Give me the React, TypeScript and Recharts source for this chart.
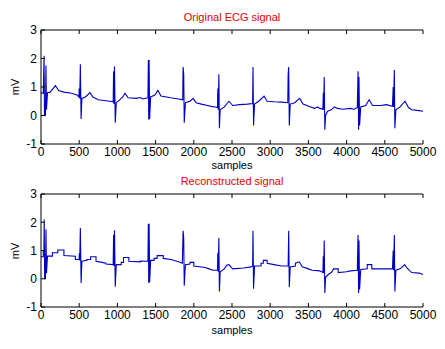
import React from "react";
import { LineChart, Line, XAxis, YAxis } from "recharts";

// [sample, mV] pairs
const originalSignal: [number, number][] = [
  [0, 0.8], [30, 0.78], [40, 2.1], [46, 0], [58, 0], [65, 1.75], [72, 0.2], [85, 0.8],
  [120, 0.82], [160, 0.95], [190, 1.05], [230, 0.88], [300, 0.82], [400, 0.78], [470, 0.72],
  [495, 0.65], [500, 0.95], [507, 0.6], [515, 1.8], [525, -0.12], [535, 0.6], [580, 0.65],
  [610, 0.72], [640, 0.8], [680, 0.65], [750, 0.55], [850, 0.52], [900, 0.5], [945, 0.48],
  [950, 1.55], [955, 0.4], [962, 1.72], [972, -0.25], [985, 0.45], [1030, 0.55], [1070, 0.65],
  [1100, 0.78], [1140, 0.62], [1250, 0.6], [1300, 0.63], [1330, 0.58], [1400, 0.62],
  [1405, 1.95], [1410, -0.15], [1415, 1.95], [1422, -0.12], [1435, 0.65], [1490, 0.72],
  [1530, 0.88], [1570, 0.68], [1700, 0.62], [1800, 0.58], [1855, 0.55], [1860, 1.7],
  [1868, 1.45], [1875, -0.25], [1890, 0.45], [1950, 0.5], [1990, 0.6], [2030, 0.45],
  [2100, 0.4], [2180, 0.35], [2230, 0.32], [2280, 0.3], [2310, 0.28], [2315, 0.95],
  [2320, 0.2], [2328, 1.45], [2335, -0.45], [2345, 0.2], [2400, 0.3], [2460, 0.5],
  [2510, 0.35], [2600, 0.38], [2700, 0.4], [2770, 0.42], [2775, 1.7], [2782, -0.35],
  [2795, 0.4], [2850, 0.5], [2920, 0.68], [2960, 0.5], [3050, 0.48], [3150, 0.47],
  [3230, 0.45], [3235, 1.45], [3242, 1.7], [3250, -0.35], [3262, 0.4], [3320, 0.45],
  [3385, 0.6], [3430, 0.4], [3530, 0.3], [3580, 0.25], [3620, 0.3], [3650, 0.25],
  [3690, 0.22], [3695, 0.8], [3700, 0.2], [3707, 1.35], [3715, -0.5], [3725, 0.0],
  [3750, 0.15], [3800, 0.2], [3840, 0.3], [3880, 0.25], [3950, 0.22], [4050, 0.25],
  [4100, 0.22], [4140, 0.28], [4150, 1.55], [4157, -0.5], [4162, 1.35], [4170, -0.35],
  [4185, 0.3], [4250, 0.35], [4295, 0.55], [4340, 0.35], [4450, 0.35], [4520, 0.38],
  [4600, 0.32], [4610, 1.0], [4615, 0.3], [4625, 1.6], [4632, -0.45], [4645, 0.2],
  [4700, 0.3], [4765, 0.5], [4810, 0.28], [4850, 0.2], [4950, 0.17], [5000, 0.15],
];

const reconstructedSignal: [number, number][] = [
  [0, 0.78], [30, 0.78], [30, 1.0], [38, 1.0], [42, 2.1], [48, 0], [58, 0], [65, 1.75],
  [72, 0.2], [85, 0.8], [150, 0.8], [150, 0.92], [220, 0.92], [220, 1.02], [300, 1.02],
  [300, 0.82], [450, 0.8], [450, 0.68], [498, 0.68], [502, 0.9], [507, 0.65], [515, 1.8],
  [525, -0.15], [535, 0.62], [600, 0.65], [600, 0.68], [650, 0.68], [650, 0.78], [720, 0.78],
  [720, 0.62], [800, 0.58], [850, 0.55], [850, 0.52], [945, 0.5], [950, 1.55], [955, 0.45],
  [962, 1.72], [972, -0.28], [985, 0.5], [1050, 0.5], [1050, 0.58], [1080, 0.58],
  [1080, 0.75], [1150, 0.75], [1150, 0.62], [1300, 0.6], [1300, 0.63], [1400, 0.62],
  [1405, 1.95], [1410, -0.15], [1415, 1.95], [1422, -0.12], [1435, 0.65], [1480, 0.65],
  [1480, 0.72], [1520, 0.72], [1520, 0.82], [1600, 0.82], [1600, 0.72], [1700, 0.68],
  [1800, 0.6], [1850, 0.55], [1860, 1.7], [1868, 1.45], [1875, -0.25], [1890, 0.5],
  [1950, 0.52], [1950, 0.58], [2000, 0.58], [2000, 0.45], [2150, 0.4], [2200, 0.35],
  [2250, 0.3], [2310, 0.3], [2315, 0.92], [2320, 0.25], [2328, 1.45], [2335, -0.45],
  [2345, 0.25], [2400, 0.35], [2430, 0.48], [2460, 0.5], [2490, 0.4], [2510, 0.35],
  [2650, 0.38], [2750, 0.42], [2770, 0.45], [2775, 1.7], [2782, -0.35], [2795, 0.45],
  [2880, 0.45], [2880, 0.55], [2910, 0.55], [2910, 0.65], [2960, 0.65], [2960, 0.55],
  [3050, 0.5], [3150, 0.45], [3235, 0.45], [3242, 1.7], [3250, -0.3], [3262, 0.42],
  [3330, 0.45], [3330, 0.55], [3380, 0.6], [3420, 0.42], [3500, 0.35], [3550, 0.3],
  [3650, 0.28], [3690, 0.22], [3695, 0.8], [3700, 0.2], [3707, 1.35], [3715, -0.5],
  [3725, 0.05], [3760, 0.15], [3800, 0.22], [3830, 0.35], [3890, 0.35], [3890, 0.22],
  [4000, 0.25], [4050, 0.28], [4140, 0.3], [4150, 1.55], [4157, -0.5], [4162, 1.35],
  [4170, -0.38], [4185, 0.33], [4270, 0.35], [4270, 0.5], [4330, 0.5], [4330, 0.35],
  [4600, 0.35], [4610, 1.0], [4615, 0.3], [4625, 1.55], [4632, -0.45], [4645, 0.3],
  [4700, 0.35], [4740, 0.45], [4760, 0.5], [4790, 0.38], [4850, 0.22], [4950, 0.2],
  [5000, 0.15],
];

const xTicks = [0, 500, 1000, 1500, 2000, 2500, 3000, 3500, 4000, 4500, 5000];
const yTicks = [-1, 0, 1, 2, 3];

const font = "'Liberation Sans', Arial, sans-serif";
const lineColor = "#0000c0";

type PanelProps = {
  title: string;
  signal: [number, number][];
  top: number;
  height: number;
  topAxis: number;
  bottomAxis: number;
  labelGap: number;
};

const Panel = ({ title, signal, top, height, topAxis, bottomAxis, labelGap }: PanelProps) => {
  const data = signal.map(([x, y]) => ({ x, y }));
  const plotTop = topAxis;
  const plotBottom = height - bottomAxis;
  const tickStyle = { fontSize: 12, fill: "#000", fontFamily: font };
  return (
    <div style={{ position: "absolute", left: 0, top, width: 445, height }}>
      <LineChart
        width={445}
        height={height}
        data={data}
        margin={{ top: 0, right: 22, left: 0, bottom: 0 }}>
        <XAxis
          dataKey="x"
          type="number"
          domain={[0, 5000]}
          ticks={xTicks}
          interval={0}
          height={bottomAxis}
          tickSize={-4}
          tickMargin={7}
          stroke="#000"
          tick={tickStyle}
        />
        <XAxis
          xAxisId="top"
          orientation="top"
          dataKey="x"
          type="number"
          domain={[0, 5000]}
          ticks={xTicks}
          interval={0}
          height={topAxis}
          tickSize={-4}
          stroke="#000"
          tickFormatter={() => ""}
        />
        <YAxis
          type="number"
          domain={[-1, 3]}
          ticks={yTicks}
          interval={0}
          width={41}
          tickSize={-4}
          tickMargin={8}
          stroke="#000"
          tick={tickStyle}
        />
        <YAxis
          yAxisId="right"
          orientation="right"
          type="number"
          domain={[-1, 3]}
          ticks={yTicks}
          interval={0}
          width={0}
          tickSize={-4}
          stroke="#000"
          tickFormatter={() => ""}
        />
        <Line
          dataKey="y"
          type="linear"
          stroke={lineColor}
          strokeWidth={1.1}
          dot={false}
          activeDot={false}
          isAnimationActive={false}
        />
      </LineChart>
      <div
        style={{
          position: "absolute",
          left: 41,
          width: 382,
          top: plotTop - 19,
          textAlign: "center",
          color: "#e00000",
          fontFamily: font,
          fontSize: 11,
        }}>
        {title}
      </div>
      <div
        style={{
          position: "absolute",
          left: 41,
          width: 382,
          top: plotBottom + labelGap,
          textAlign: "center",
          color: "#000",
          fontFamily: font,
          fontSize: 11,
        }}>
        samples
      </div>
      <div
        style={{
          position: "absolute",
          left: 15,
          top: (plotTop + plotBottom) / 2,
          transform: "translate(-50%, -50%) rotate(-90deg)",
          color: "#000",
          fontFamily: font,
          fontSize: 11,
        }}>
        mV
      </div>
    </div>
  );
};

export default function App() {
  return (
    <div style={{ position: "absolute", left: 0, top: 0, width: 445, height: 349, background: "#fff" }}>
      <Panel title="Original ECG signal" signal={originalSignal} top={0} height={175} topAxis={30} bottomAxis={31} labelGap={15} />
      <Panel title="Reconstructed signal" signal={reconstructedSignal} top={175} height={174} topAxis={19} bottomAxis={42} labelGap={17} />
    </div>
  );
}
